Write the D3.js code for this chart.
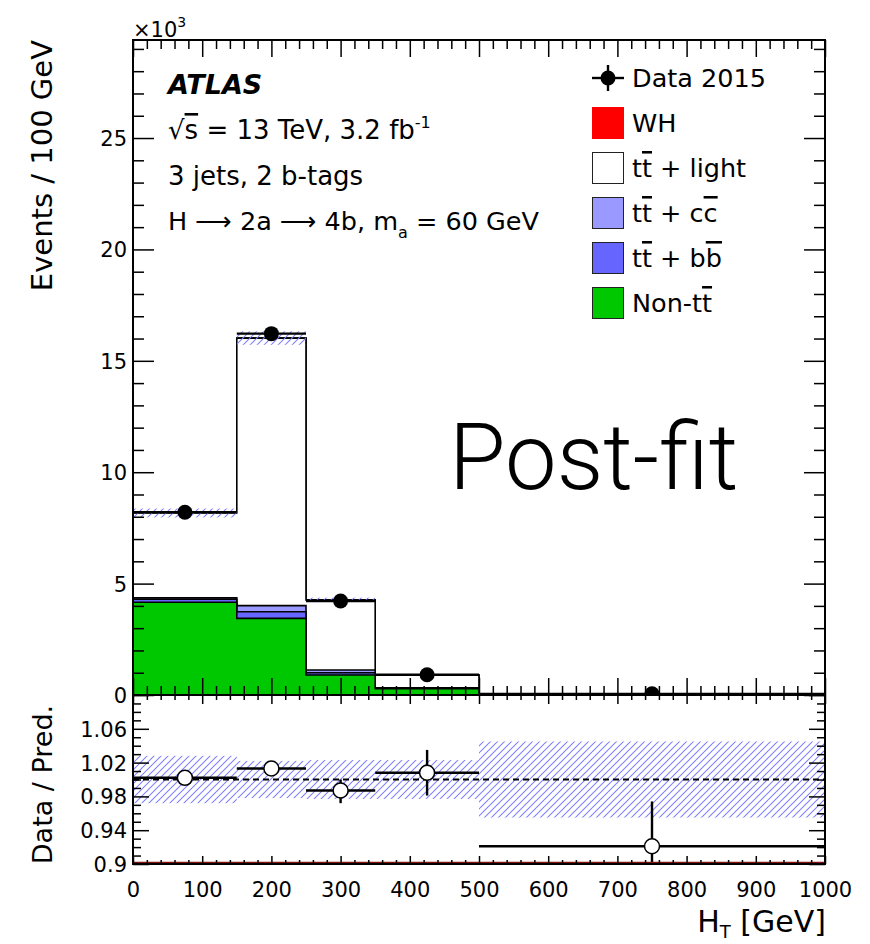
<!DOCTYPE html>
<html>
<head>
<meta charset="utf-8">
<script src="https://cdn.jsdelivr.net/npm/d3@7"></script>
<style>
  html, body { margin: 0; padding: 0; background: #fff; }
  svg { display: block; }
  text { font-family: "DejaVu Sans", sans-serif; fill: #000; }
</style>
</head>
<body>
<svg id="chart" width="870" height="944"></svg>
<script>
// H_T distribution, 3 jets / 2 b-tags region, post-fit
const binEdges   = [0, 150, 250, 350, 500, 1000];
const binCenters = [75, 200, 300, 425, 750];

// Stacked predictions, events / 100 GeV (in thousands)
const nonTT   = [4.16, 3.44, 0.90, 0.28, 0.010];
const ttbb    = [0.14, 0.30, 0.10, 0.02, 0.003];
const ttcc    = [0.06, 0.27, 0.12, 0.02, 0.003];
const ttlight = [3.81, 12.01, 3.15, 0.58, 0.040];
const wh      = [0.004, 0.006, 0.003, 0.001, 0.0005];
const predUnc = [0.20, 0.30, 0.10, 0.02, 0.003];

// Data 2015
const dataVals = [8.20, 16.22, 4.22, 0.91, 0.052];
const dataErr  = [0.05, 0.07, 0.04, 0.02, 0.004];

// Data / prediction
const ratioVals   = [1.002, 1.013, 0.987, 1.008, 0.921];
const ratioErrUp  = [0.006, 0.006, 0.013, 0.027, 0.053];
const ratioErrDn  = [0.006, 0.006, 0.015, 0.027, 0.053];
const ratioBand   = [0.028, 0.022, 0.023, 0.023, 0.045];

// Axis ticks
const yMajor      = [0, 5, 10, 15, 20, 25];
const xMajor      = d3.range(0, 1001, 100);
const xMinor      = d3.range(0, 1001, 20);
const yMinor      = d3.range(0, 30, 1);
const rMajor      = [0.9, 0.94, 0.98, 1.02, 1.06, 1.1];
const rMinor      = d3.range(90, 111, 1).map(v => v / 100);

const legendItems = [
  { key: "data", parts: [["Data 2015", false]] },
  { key: "wh", color: "#ff0000", parts: [["WH", false]] },
  { key: "ttlight", color: "#ffffff", parts: [["t", false], ["t", true], [" + light", false]] },
  { key: "ttcc", color: "#9999ff", parts: [["t", false], ["t", true], [" + c", false], ["c", true]] },
  { key: "ttbb", color: "#6666ff", parts: [["t", false], ["t", true], [" + b", false], ["b", true]] },
  { key: "nontt", color: "#00c800", parts: [["Non-t", false], ["t", true]] }
];

const L = 133, R = 825, T = 40, B = 695, RB = 864;
const svg = d3.select("#chart");

const x  = d3.scaleLinear().domain([0, 1000]).range([L, R]);
const y  = d3.scaleLinear().domain([0, 29.4]).range([B, T]);
const yr = d3.scaleLinear().domain([0.9, 1.1]).range([RB, B]);

// hatch pattern for uncertainty bands
const defs = svg.append("defs");
const pat = defs.append("pattern").attr("id", "hatch")
  .attr("patternUnits", "userSpaceOnUse").attr("width", 7).attr("height", 7);
pat.append("path").attr("d", "M-1,8 L8,-1 M-1,1 L1,-1 M6,8 L8,6")
  .attr("stroke", "#7e7eff").attr("stroke-width", 1.05);

defs.append("clipPath").attr("id", "clipMain").append("rect")
  .attr("x", L).attr("y", T).attr("width", R - L).attr("height", B - T);
defs.append("clipPath").attr("id", "clipRatio").append("rect")
  .attr("x", L).attr("y", B).attr("width", R - L).attr("height", RB - B);

// ---------- main panel: stacked histogram ----------
const main = svg.append("g").attr("clip-path", "url(#clipMain)");

const layers = [nonTT, ttbb, ttcc, ttlight, wh];
const layerColors = ["#00c800", "#6666ff", "#9999ff", "#ffffff", "#ff0000"];
const cum = [];
layers.forEach((arr, i) => {
  cum.push(arr.map((v, j) => v + (i > 0 ? cum[i - 1][j] : 0)));
});

const stepLine = d3.line().x(d => x(d[0])).y(d => y(d[1]));
function stepPoints(vals) {
  const pts = [[binEdges[0], 0]];
  vals.forEach((v, i) => { pts.push([binEdges[i], v]); pts.push([binEdges[i + 1], v]); });
  pts.push([binEdges[binEdges.length - 1], 0]);
  return pts;
}
for (let i = layers.length - 1; i >= 0; i--) {
  main.append("path")
    .attr("d", stepLine(stepPoints(cum[i])) + "Z")
    .attr("fill", layerColors[i])
    .attr("stroke", "#000").attr("stroke-width", 1.6)
    .attr("stroke-linejoin", "miter");
}
const total = cum[3];

// uncertainty band on the total
main.selectAll("rect.unc").data(total).join("rect")
  .attr("class", "unc")
  .attr("x", (d, i) => x(binEdges[i]))
  .attr("width", (d, i) => x(binEdges[i + 1]) - x(binEdges[i]))
  .attr("y", (d, i) => y(d + predUnc[i]))
  .attr("height", (d, i) => y(d - predUnc[i]) - y(d + predUnc[i]))
  .attr("fill", "url(#hatch)");

// data points
const dataG = main.append("g");
dataVals.forEach((v, i) => {
  dataG.append("line")
    .attr("x1", x(binEdges[i])).attr("x2", x(binEdges[i + 1]))
    .attr("y1", y(v)).attr("y2", y(v))
    .attr("stroke", "#000").attr("stroke-width", 2.4);
  dataG.append("line")
    .attr("x1", x(binCenters[i])).attr("x2", x(binCenters[i]))
    .attr("y1", y(v - dataErr[i])).attr("y2", y(v + dataErr[i]))
    .attr("stroke", "#000").attr("stroke-width", 2.4);
  dataG.append("circle")
    .attr("cx", x(binCenters[i])).attr("cy", y(v)).attr("r", 7.5)
    .attr("fill", "#000");
});

// ---------- ratio panel ----------
const ratio = svg.append("g").attr("clip-path", "url(#clipRatio)");
ratio.selectAll("rect.band").data(ratioBand).join("rect")
  .attr("class", "band")
  .attr("x", (d, i) => x(binEdges[i]))
  .attr("width", (d, i) => x(binEdges[i + 1]) - x(binEdges[i]))
  .attr("y", d => yr(1 + d))
  .attr("height", d => yr(1 - d) - yr(1 + d))
  .attr("fill", "url(#hatch)");

ratio.append("line")
  .attr("x1", L).attr("x2", R).attr("y1", yr(1)).attr("y2", yr(1))
  .attr("stroke", "#000").attr("stroke-width", 2).attr("stroke-dasharray", "6,4");

ratioVals.forEach((v, i) => {
  ratio.append("line")
    .attr("x1", x(binEdges[i])).attr("x2", x(binEdges[i + 1]))
    .attr("y1", yr(v)).attr("y2", yr(v))
    .attr("stroke", "#000").attr("stroke-width", 2.4);
  ratio.append("line")
    .attr("x1", x(binCenters[i])).attr("x2", x(binCenters[i]))
    .attr("y1", yr(v - ratioErrDn[i])).attr("y2", yr(v + ratioErrUp[i]))
    .attr("stroke", "#000").attr("stroke-width", 2.4);
  ratio.append("circle")
    .attr("cx", x(binCenters[i])).attr("cy", yr(v)).attr("r", 7.5)
    .attr("fill", "#fff").attr("stroke", "#000").attr("stroke-width", 1.5);
});

// thin red line along the ratio floor
svg.append("line").attr("x1", L).attr("x2", R)
  .attr("y1", RB - 1.5).attr("y2", RB - 1.5)
  .attr("stroke", "#8b1010").attr("stroke-width", 1.5);

// ---------- axes ----------
function tickAxis(axisGen, transform, values, size, showLabels, fmt) {
  const a = axisGen.tickValues(values).tickSize(size)
    .tickFormat(showLabels ? fmt : () => "");
  const g = svg.append("g").attr("transform", transform).call(a);
  g.select(".domain").remove();
  g.selectAll(".tick line").attr("stroke", "#000").attr("stroke-width", 1.5);
  g.attr("font-family", null).attr("font-size", null);
  return g;
}
const minorOf = (all, major) => all.filter(v => !major.some(m => Math.abs(m - v) < 1e-9));

// main: left / right / top / bottom
const gy = tickAxis(d3.axisLeft(y), `translate(${L},0)`, yMajor, -21, true, d => d);
gy.selectAll("text").attr("x", -6).attr("dy", "0.36em").style("font-size", "21px");
tickAxis(d3.axisLeft(y), `translate(${L},0)`, minorOf(yMinor, yMajor), -11, false);
tickAxis(d3.axisRight(y), `translate(${R},0)`, yMajor, -21, false);
tickAxis(d3.axisRight(y), `translate(${R},0)`, minorOf(yMinor, yMajor), -11, false);
tickAxis(d3.axisTop(x), `translate(0,${T})`, xMajor, -17, false);
tickAxis(d3.axisTop(x), `translate(0,${T})`, minorOf(xMinor, xMajor), -9, false);
tickAxis(d3.axisBottom(x), `translate(0,${B})`, xMajor, -17, false);
tickAxis(d3.axisBottom(x), `translate(0,${B})`, minorOf(xMinor, xMajor), -9, false);

// ratio: left / right / top / bottom
const rFmt = d => String(+d.toFixed(2));
const gr = tickAxis(d3.axisLeft(yr), `translate(${L},0)`, rMajor, -16, true, rFmt);
gr.selectAll("text").attr("x", -6).attr("dy", "0.36em").style("font-size", "21px")
  .filter(d => d > 1.09).remove();
tickAxis(d3.axisLeft(yr), `translate(${L},0)`, minorOf(rMinor, rMajor), -8, false);
tickAxis(d3.axisRight(yr), `translate(${R},0)`, rMajor, -16, false);
tickAxis(d3.axisRight(yr), `translate(${R},0)`, minorOf(rMinor, rMajor), -8, false);
tickAxis(d3.axisTop(x), `translate(0,${B})`, xMajor, -9, false);
tickAxis(d3.axisTop(x), `translate(0,${B})`, minorOf(xMinor, xMajor), -5, false);
const gx = tickAxis(d3.axisBottom(x), `translate(0,${RB})`, xMajor, -8, true, d => d);
gx.selectAll("text").attr("y", 33).attr("dy", null).style("font-size", "21px");
tickAxis(d3.axisBottom(x), `translate(0,${RB})`, minorOf(xMinor, xMajor), -4, false);

// frames
svg.append("rect").attr("x", L).attr("y", T).attr("width", R - L).attr("height", B - T)
  .attr("fill", "none").attr("stroke", "#000").attr("stroke-width", 2);
svg.append("rect").attr("x", L).attr("y", B).attr("width", R - L).attr("height", RB - B)
  .attr("fill", "none").attr("stroke", "#000").attr("stroke-width", 2);

// ---------- axis titles ----------
const exp = svg.append("text").attr("x", L).attr("y", 37).style("font-size", "21px");
exp.append("tspan").text("×10");
exp.append("tspan").attr("dy", -10).style("font-size", "14px").text("3");

svg.append("text")
  .attr("transform", `translate(52,${T}) rotate(-90)`)
  .attr("text-anchor", "end").style("font-size", "29px")
  .text("Events / 100 GeV");

svg.append("text")
  .attr("transform", `translate(52,${(B + RB) / 2 + 5}) rotate(-90)`)
  .attr("text-anchor", "middle").style("font-size", "27px")
  .text("Data / Pred.");

const xt = svg.append("text").attr("x", R + 1).attr("y", 932)
  .attr("text-anchor", "end").style("font-size", "30px");
xt.append("tspan").text("H");
xt.append("tspan").attr("dy", 6).style("font-size", "18px").text("T");
xt.append("tspan").attr("dy", -6).text(" [GeV]");

// ---------- labels ----------
svg.append("text").attr("x", 168).attr("y", 94)
  .style("font-size", "27px").style("font-weight", "bold").style("font-style", "italic")
  .text("ATLAS");

const l1 = svg.append("text").attr("x", 168).attr("y", 139).style("font-size", "26px");
l1.append("tspan").text("√");
l1.append("tspan").attr("text-decoration", "overline").text("s");
l1.append("tspan").text(" = 13 TeV, 3.2 fb");
l1.append("tspan").attr("dy", -11).style("font-size", "16px").text("-1");

svg.append("text").attr("x", 168).attr("y", 185).style("font-size", "26px")
  .text("3 jets, 2 b-tags");

const l3 = svg.append("text").attr("x", 168).attr("y", 230).style("font-size", "25.5px");
l3.append("tspan").text("H ⟶ 2a ⟶ 4b, m");
l3.append("tspan").attr("dy", 8).style("font-size", "16px").text("a");
l3.append("tspan").attr("dy", -8).text(" = 60 GeV");

svg.append("text").attr("x", 449).attr("y", 489)
  .style("font-family", "Roboto, 'Liberation Sans', sans-serif")
  .style("font-weight", "300").style("font-size", "92px")
  .text("Post-fit");

// ---------- legend ----------
const legY = d3.scaleLinear().domain([0, 5]).range([78, 303]);
const leg = svg.append("g");
legendItems.forEach((item, i) => {
  const cy = legY(i);
  if (item.key === "data") {
    leg.append("line").attr("x1", 592).attr("x2", 624).attr("y1", cy).attr("y2", cy)
      .attr("stroke", "#000").attr("stroke-width", 2.4);
    leg.append("line").attr("x1", 608).attr("x2", 608).attr("y1", cy - 13).attr("y2", cy + 13)
      .attr("stroke", "#000").attr("stroke-width", 2.4);
    leg.append("circle").attr("cx", 608).attr("cy", cy).attr("r", 7.5).attr("fill", "#000");
  } else {
    leg.append("rect").attr("x", 592.5).attr("y", cy - 15.5).attr("width", 31).attr("height", 31)
      .attr("fill", item.color)
      .attr("stroke", item.key === "wh" ? "#ff0000" : "#222").attr("stroke-width", 1);
  }
  const t = leg.append("text").attr("x", 632).attr("y", cy + 9).style("font-size", "25.5px");
  item.parts.forEach(([s, bar]) => {
    const sp = t.append("tspan").text(s);
    if (bar) sp.attr("text-decoration", "overline");
  });
});
</script>
</body>
</html>
